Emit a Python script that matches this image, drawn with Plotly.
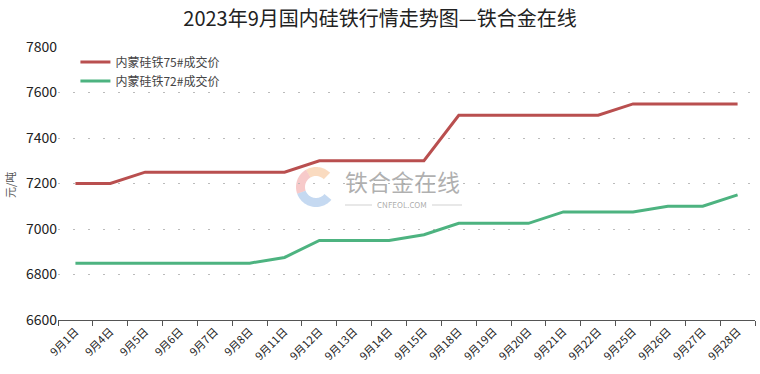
import math
import plotly.graph_objects as go

dates = ["9月1日", "9月4日", "9月5日", "9月6日", "9月7日", "9月8日", "9月11日", "9月12日",
         "9月13日", "9月14日", "9月15日", "9月18日", "9月19日", "9月20日", "9月21日",
         "9月22日", "9月25日", "9月26日", "9月27日", "9月28日"]
price_75 = [7200, 7200, 7250, 7250, 7250, 7250, 7250, 7300, 7300, 7300, 7300,
            7500, 7500, 7500, 7500, 7500, 7550, 7550, 7550, 7550]
price_72 = [6850, 6850, 6850, 6850, 6850, 6850, 6875, 6950, 6950, 6950, 6975,
            7025, 7025, 7025, 7075, 7075, 7075, 7100, 7100, 7150]
series_names = ["内蒙硅铁75#成交价", "内蒙硅铁72#成交价"]
y_ticks = [6600, 6800, 7000, 7200, 7400, 7600, 7800]

FONT = "Noto Sans CJK SC"
W, H = 760, 374
ML, MR, MT, MB = 58, 5, 47, 54
PW, PH = W - ML - MR, H - MT - MB

fig = go.Figure()
fig.add_trace(go.Scatter(x=dates, y=price_75, mode="lines", name=series_names[0],
                         line=dict(color="#B94F4F", width=3)))
fig.add_trace(go.Scatter(x=dates, y=price_72, mode="lines", name=series_names[1],
                         line=dict(color="#4DB380", width=3)))

def to_paper(px, py):
    return (px - ML) / PW, (H - MB - py) / PH

# watermark logo: ring segments
def ring_path(cx, cy, r1, r2, a0, a1, n=24):
    pts = []
    for i in range(n + 1):
        a = math.radians(a0 + (a1 - a0) * i / n)
        pts.append(to_paper(cx + r2 * math.cos(a), cy - r2 * math.sin(a)))
    for i in range(n, -1, -1):
        a = math.radians(a0 + (a1 - a0) * i / n)
        pts.append(to_paper(cx + r1 * math.cos(a), cy - r1 * math.sin(a)))
    return "M " + " L ".join(f"{x:.5f},{y:.5f}" for x, y in pts) + " Z"

cx, cy = 316, 187
shapes = [
    dict(type="path", xref="paper", yref="paper", path=ring_path(cx, cy, 11, 20, 45, 120),
         fillcolor="rgba(246,190,140,0.55)", line=dict(width=0), layer="below"),
    dict(type="path", xref="paper", yref="paper", path=ring_path(cx, cy, 11, 20, 120, 200),
         fillcolor="rgba(240,150,150,0.5)", line=dict(width=0), layer="below"),
    dict(type="path", xref="paper", yref="paper", path=ring_path(cx, cy, 11, 20, 200, 320),
         fillcolor="rgba(150,185,230,0.55)", line=dict(width=0), layer="below"),
]
# lines beside CNFEOL.COM
for x0, x1 in [(345, 372), (432, 462)]:
    a = to_paper(x0, 205)
    b = to_paper(x1, 205)
    shapes.append(dict(type="line", xref="paper", yref="paper", x0=a[0], y0=a[1], x1=b[0], y1=b[1],
                       line=dict(color="rgba(190,190,190,0.7)", width=1), layer="below"))

wx, wy = to_paper(402, 181)
cx2, cy2 = to_paper(402, 205)
lx, ly = to_paper(10, 185)
annotations = [
    dict(text="铁合金在线", x=wx, y=wy, xref="paper", yref="paper", showarrow=False,
         xanchor="center", yanchor="middle",
         font=dict(family=FONT, size=23, color="rgba(150,150,150,0.75)")),
    dict(text="CNFEOL.COM", x=cx2, y=cy2, xref="paper", yref="paper", showarrow=False,
         xanchor="center", yanchor="middle",
         font=dict(family=FONT, size=8, color="rgba(150,150,150,0.8)")),
    dict(text="元/吨", x=lx, y=ly, xref="paper", yref="paper", showarrow=False, textangle=-90,
         xanchor="center", yanchor="middle",
         font=dict(family=FONT, size=11, color="#555")),
]

fig.update_layout(
    width=W, height=H,
    margin=dict(l=ML, r=MR, t=MT, b=MB, autoexpand=False),
    paper_bgcolor="white", plot_bgcolor="white",
    title=dict(text="2023年9月国内硅铁行情走势图—铁合金在线", x=0.5, xanchor="center",
               y=1 - 19 / H, yanchor="middle",
               font=dict(family=FONT, size=20, color="#222")),
    font=dict(family=FONT, color="#222"),
    legend=dict(x=0.025, y=0.998, xanchor="left", yanchor="top", bgcolor="rgba(0,0,0,0)",
                font=dict(family=FONT, size=12, color="#444"), itemwidth=30, tracegroupgap=0),
    showlegend=True,
    shapes=shapes,
    annotations=annotations,
)
fig.update_xaxes(type="category", range=[-0.5, len(dates) - 0.5], tickson="boundaries",
                 ticks="outside", ticklen=5,
                 tickcolor="#555", showline=True, linecolor="#555", linewidth=1,
                 showgrid=False, tickangle=-45, automargin=False,
                 tickfont=dict(family=FONT, size=11, color="#222"))
fig.update_yaxes(range=[6600, 7800], tickvals=y_ticks, showgrid=True,
                 gridcolor="#BBBBBB", gridwidth=1, griddash="2px,13px",
                 zeroline=False, showline=False, ticks="", automargin=False,
                 tickfont=dict(family=FONT, size=14, color="#222"))

fig.write_html("out.html", config={"displayModeBar": False},
               post_script="document.body.style.margin='0';")
